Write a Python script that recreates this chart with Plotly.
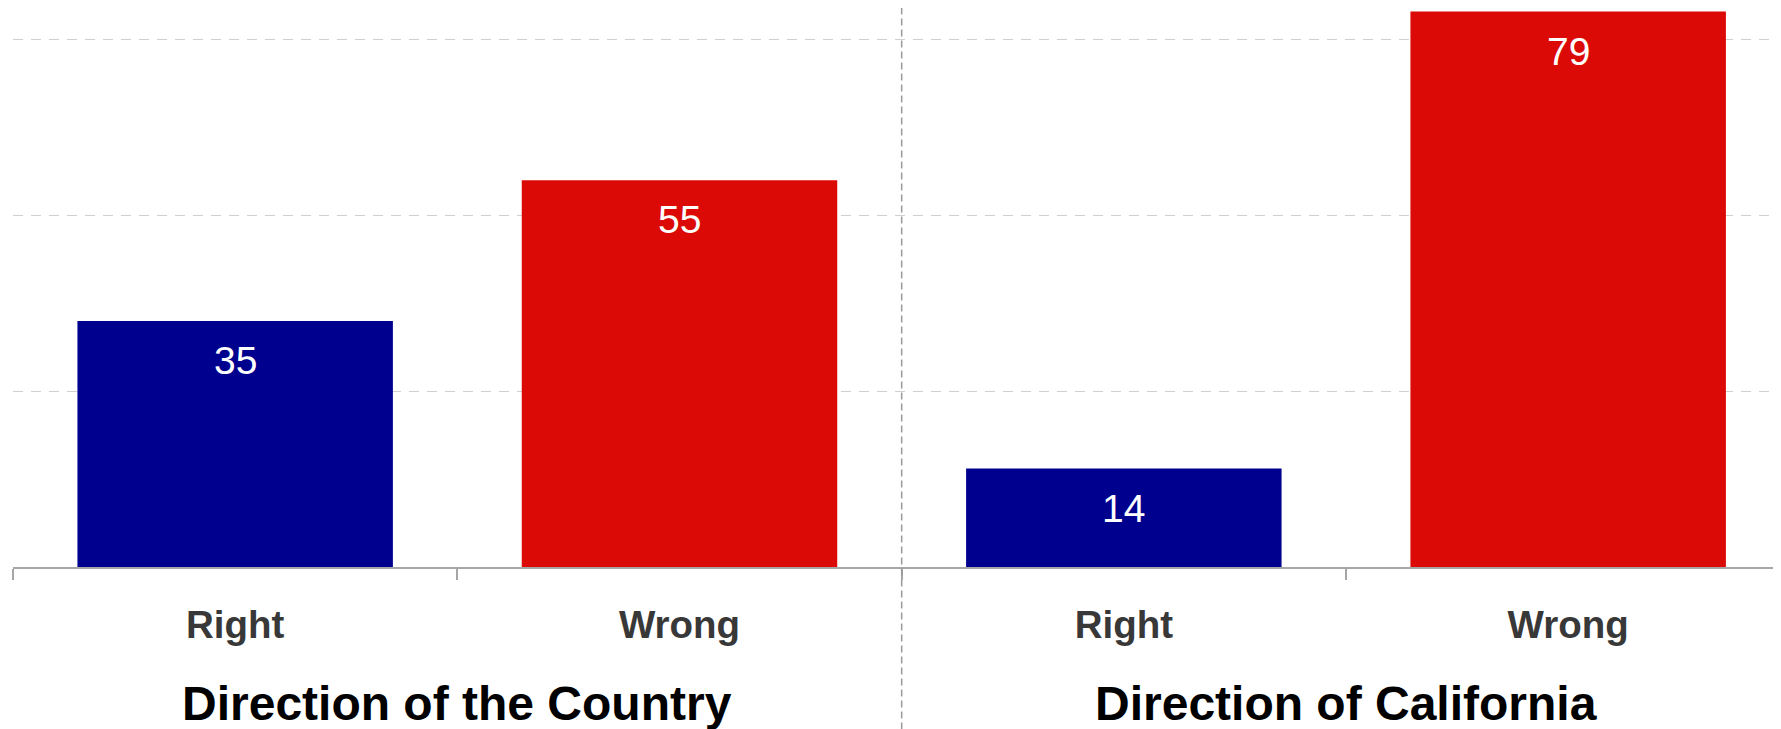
import plotly.graph_objects as go

# ---- data ----
groups = ["Direction of the Country", "Direction of California"]
categories = ["Right", "Wrong", "Right", "Wrong"]
values = [35, 55, 14, 79]
bar_colors = ["#00008f", "#dc0a06", "#00008f", "#dc0a06"]
x_pos = [0, 1, 2, 3]
group_centers = [0.5, 2.5]
divider_x = [1.5]

FONT = "Liberation Sans, Arial, Helvetica, sans-serif"

fig = go.Figure()
fig.add_trace(go.Bar(
    x=x_pos, y=values, marker=dict(color=bar_colors, line=dict(width=0)),
    width=0.71, hoverinfo="skip", showlegend=False,
))

# data labels inside the top of each bar
for xi, v in zip(x_pos, values):
    fig.add_annotation(x=xi, y=v, xref="x", yref="y", text=str(v), showarrow=False,
                       yanchor="top", yshift=-16,
                       font=dict(family=FONT, size=39, color="white"))

# group titles
for xc, g in zip(group_centers, groups):
    fig.add_annotation(x=xc, y=-0.244, xref="x", yref="paper", text="<b>" + g + "</b>",
                       showarrow=False, yanchor="middle",
                       font=dict(family=FONT, size=48, color="#000000"))

# dashed divider between groups
for dx in divider_x:
    fig.add_shape(type="line", xref="x", yref="paper", x0=dx, x1=dx, y0=-0.2905, y1=1.0,
                  line=dict(color="#9a9a9a", width=1.5, dash="7px,4px"), layer="above")

fig.update_layout(
    width=1773, height=721,
    margin=dict(l=5.3, r=0, t=0, b=162.3, pad=0),
    paper_bgcolor="white", plot_bgcolor="white",
    font=dict(family=FONT),
    bargap=0.29,
)
fig.update_xaxes(
    range=[-0.5, 3.479],
    tickmode="array", tickvals=x_pos, ticktext=["<b>" + c + "</b>" for c in categories],
    ticks="", tickfont=dict(family=FONT, size=38.5, color="#383838"),
    ticklabelstandoff=23,
    showline=True, linecolor="#a6a6a6", linewidth=2,
    showgrid=False, zeroline=False,
    minor=dict(tickmode="linear", tick0=-0.5, dtick=1, ticks="outside", ticklen=11,
               tickcolor="#a6a6a6", tickwidth=1.5, showgrid=False),
)
fig.update_yaxes(
    range=[0, 79.51], tickmode="linear", tick0=0, dtick=25,
    showticklabels=False, ticks="",
    showgrid=True, gridcolor="#cfcfcf", gridwidth=1, griddash="10px,8px",
    zeroline=False, showline=False,
)

fig.write_html("out.html")
